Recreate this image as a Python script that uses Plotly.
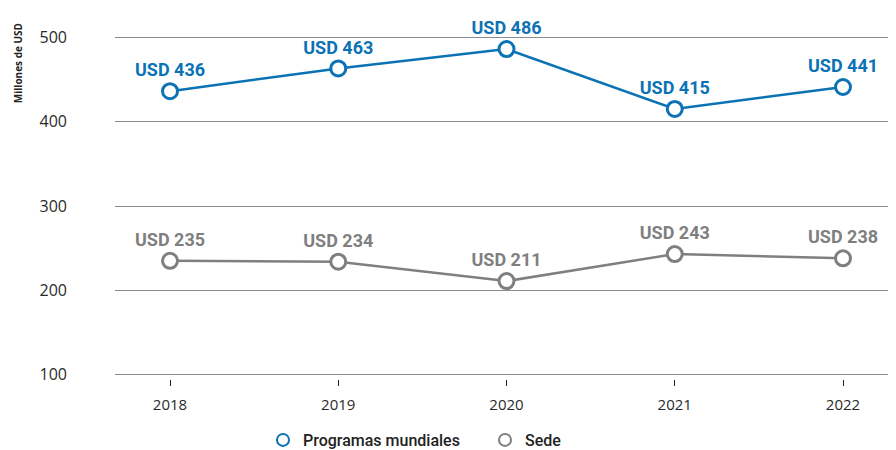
import plotly.graph_objects as go

years = ["2018", "2019", "2020", "2021", "2022"]
programas = [436, 463, 486, 415, 441]
sede = [235, 234, 211, 243, 238]
y_ticks = [100, 200, 300, 400, 500]

BLUE = "#0B72B5"
GREY = "#7F7F80"
LABEL_FONT = "Roboto"

# page body has an 8px margin; size the figure so it fills the window exactly
W, H = 888, 442
L, T, B = 107, 24.8, 70.8

fig = go.Figure()

def add_series(values, color, name):
    fig.add_trace(go.Scatter(
        x=years, y=values, mode="lines+markers+text",
        line=dict(color=color, width=2.5),
        marker=dict(symbol="circle", size=15, color="white",
                    line=dict(color=color, width=3)),
        text=[f"USD {v}" for v in values], textposition="top center",
        textfont=dict(family=LABEL_FONT, size=18, color=color, weight=700),
        cliponaxis=False, showlegend=False, hoverinfo="skip"))
    fig.add_trace(go.Scatter(
        x=[None], y=[None], mode="markers", name=name,
        marker=dict(symbol="circle", size=16, color="white",
                    line=dict(color=color, width=3.5)),
        showlegend=True))

add_series(programas, BLUE, "Programas mundiales")
add_series(sede, GREY, "Sede")

pw = W - L
ph = H - T - B

fig.update_layout(
    width=W, height=H,
    margin=dict(l=L, r=0, t=T, b=B, autoexpand=False),
    plot_bgcolor="white", paper_bgcolor="white",
    font=dict(family="Open Sans", color="#333333"),
    xaxis=dict(type="category", range=[-0.327, 4.315], showgrid=False,
               ticks="outside", ticklen=6, tickcolor="#222222", tickwidth=1,
               tickfont=dict(size=15, color="#2a2a2a"), showline=False,
               zeroline=False, automargin=False, ticklabelstandoff=6),
    yaxis=dict(range=[95, 505], tickvals=y_ticks, showgrid=True,
               gridcolor="#8C8C8C", gridwidth=1, zeroline=False,
               tickfont=dict(size=16, color="#2a2a2a"), ticklabelstandoff=47,
               automargin=False),
    legend=dict(orientation="h", xref="container", x=255 / W,
                xanchor="left", yref="container", y=(H - 432) / H,
                yanchor="middle",
                font=dict(family=LABEL_FONT, size=16, color="#222222",
                          weight=500),
                itemsizing="constant", traceorder="normal",
                entrywidth=177),
    annotations=[dict(text="<b>Millones de USD</b>", textangle=-90,
                      x=(10 - L) / pw, xref="paper",
                      y=(H - B - 55) / ph, yref="paper",
                      showarrow=False, font=dict(size=10, color="#222222"),
                      xanchor="center", yanchor="middle")],
)

fig.write_html("out.html")
